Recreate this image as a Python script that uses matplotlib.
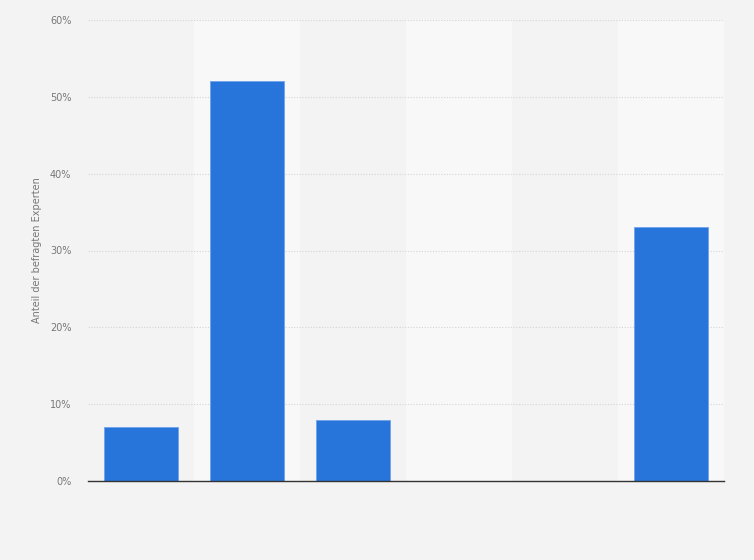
import numpy as np
import matplotlib.pyplot as plt

# -- Data ----------------------------------------------------------------------

categories = ["", "", "", "", "", ""]
shares = [7, 52, 8, 0, 0, 33]          # percent of surveyed experts
y_ticks = [0, 10, 20, 30, 40, 50, 60]

BAR_COLOR = "#2775db"
BG_COLOR = "#f3f3f3"
BAND_LIGHT = "#f8f8f8"

# -- Figure --------------------------------------------------------------------

fig = plt.figure(figsize=(7.54, 5.60), dpi=100, facecolor=BG_COLOR)
ax = fig.add_axes([88 / 754, 79 / 560, 636 / 754, 461 / 560])
ax.set_facecolor(BG_COLOR)

x = np.arange(len(shares))

# alternating column bands
for i in x:
    if i % 2 == 1:
        ax.axvspan(i - 0.5, i + 0.5, color=BAND_LIGHT, zorder=0, lw=0)

ax.bar(x, shares, width=0.69, color=BAR_COLOR, edgecolor="#6fa3ea",
       linewidth=0.6, zorder=3)

ax.set_xlim(-0.5, len(shares) - 0.5)
ax.set_ylim(0, 60)
ax.set_yticks(y_ticks)
ax.set_yticklabels([f"{v}%" for v in y_ticks])
ax.set_xticks(x)
ax.set_xticklabels(categories)

ax.grid(axis="y", color="#d4d4d4", linestyle=(0, (1, 1.5)), linewidth=0.8, zorder=1)
ax.tick_params(axis="y", length=0, pad=12, labelsize=7, labelcolor="#777777")
ax.tick_params(axis="x", length=0)

for side in ["top", "right", "left"]:
    ax.spines[side].set_visible(False)
ax.spines["bottom"].set_color("#333333")
ax.spines["bottom"].set_linewidth(1.0)
ax.spines["bottom"].set_zorder(4)

ax.set_ylabel("Anteil der befragten Experten", fontsize=7, color="#777777", labelpad=6)

fig.savefig("out.png", dpi=100, facecolor=BG_COLOR)
